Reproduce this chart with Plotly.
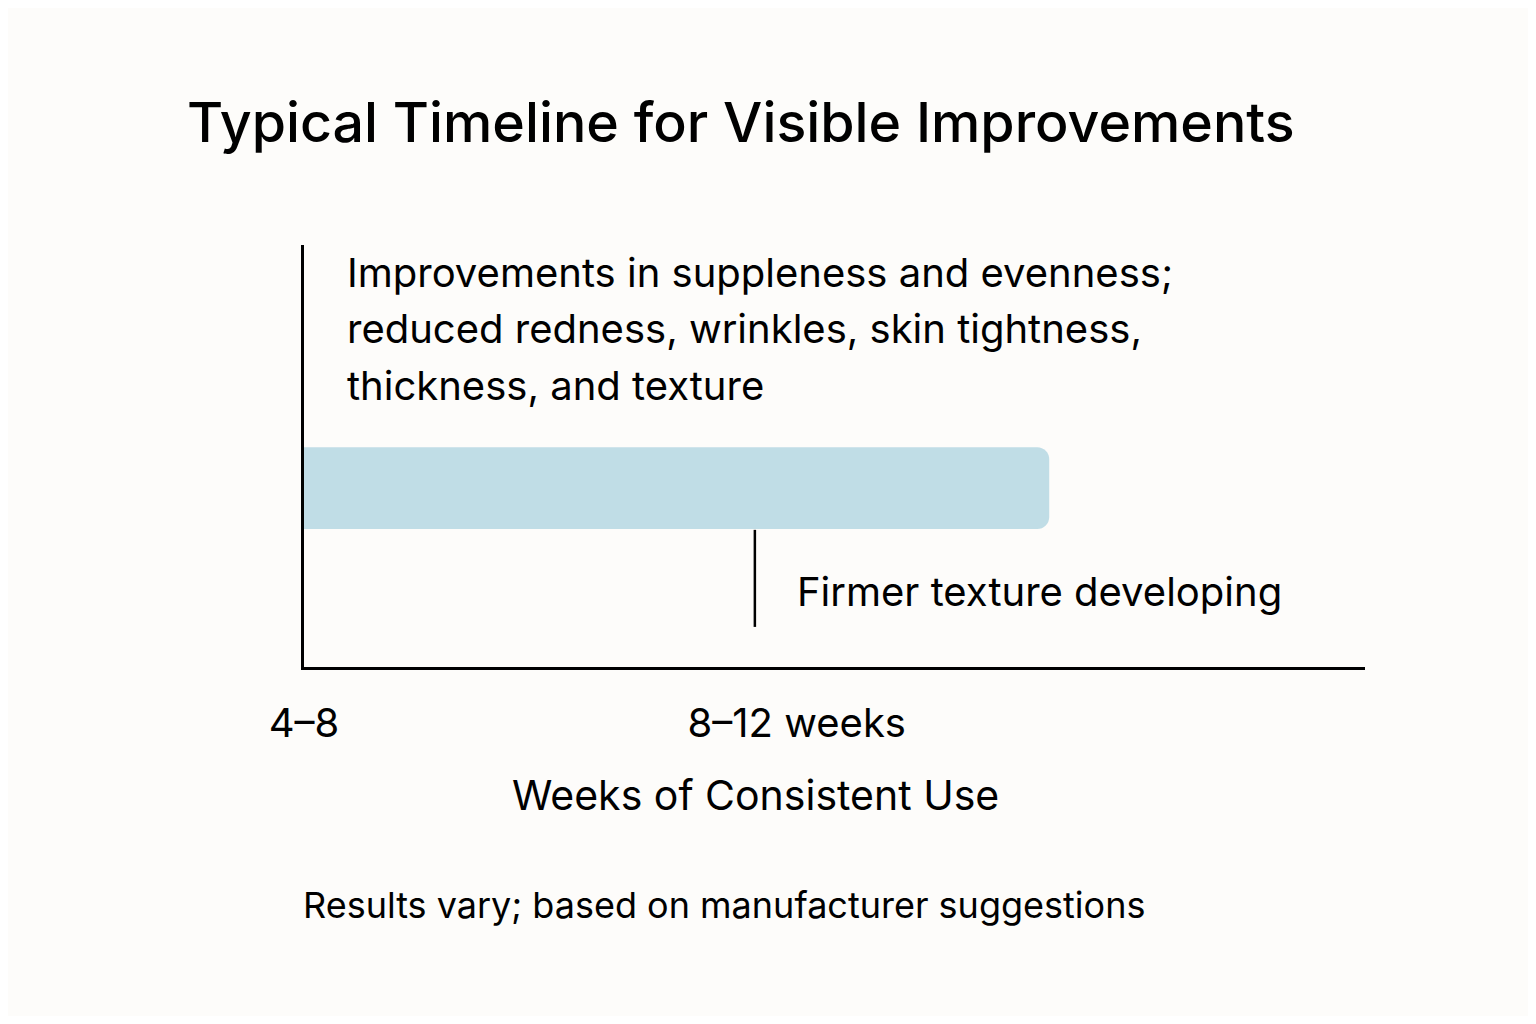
import plotly.graph_objects as go

# ---- data ---------------------------------------------------------------
# bar runs from before the first window (off the left edge) to week 12
bar_start_week = [3]
bar_end_week = [12]
bar_row = [0.424]
bar_thickness = 0.194

marker_week = [8.84, 8.84]
marker_span = [0.095, 0.325]

tick_weeks = [4, 9.29]
tick_labels = ["4–8", "8–12 weeks"]

early_lines = [
    "Improvements in suppleness and evenness;",
    "reduced redness, wrinkles, skin tightness,",
    "thickness, and texture",
]
early_x = 4.44
early_y = [0.934, 0.801, 0.668]

late_text = "Firmer texture developing"
late_x = 9.27
late_y = 0.178

BG = "#FDFCFA"
FONT = "Inter"

# page body adds 8px around the figure, so draw it 16px smaller
W, H = 1520, 1008
OFF = 8

fig = go.Figure()

fig.add_trace(go.Bar(
    x=[e - s for s, e in zip(bar_start_week, bar_end_week)],
    base=bar_start_week, y=bar_row, width=bar_thickness,
    orientation="h", marker=dict(color="#C0DDE6", line=dict(width=0)),
    hoverinfo="skip", showlegend=False,
))

# marker under the bar for the later stage
fig.add_trace(go.Scatter(
    x=marker_week, y=marker_span, mode="lines",
    line=dict(color="black", width=2.5), hoverinfo="skip", showlegend=False,
))

for txt, yy in zip(early_lines, early_y):
    fig.add_annotation(x=early_x, y=yy, text=txt, showarrow=False,
                       xanchor="left", yanchor="middle",
                       font=dict(family=FONT, size=40, color="black"))

fig.add_annotation(x=late_x, y=late_y, text=late_text, showarrow=False,
                   xanchor="left", yanchor="middle",
                   font=dict(family=FONT, size=40, color="black"))

# axis title sits left of the plot centre, so place it by hand
fig.add_annotation(text="Weeks of Consistent Use",
                   xref="paper", yref="paper", x=(755 - 304) / 1061, y=(667 - 795) / 422,
                   xanchor="center", yanchor="middle", showarrow=False,
                   font=dict(family=FONT, size=41, color="black"))

fig.add_annotation(text="Results vary; based on manufacturer suggestions",
                   xref="paper", yref="paper", x=-0.003, y=(667 - 905) / 422,
                   xanchor="left", yanchor="middle", showarrow=False,
                   font=dict(family=FONT, size=36, color="black"))

fig.update_layout(
    width=W, height=H,
    margin=dict(l=304 - OFF, r=W - (1365 - OFF), t=245 - OFF, b=H - (667 - OFF)),
    paper_bgcolor=BG, plot_bgcolor=BG,
    barcornerradius=12,
    title=dict(text="Typical Timeline for Visible Improvements",
               x=(187 - OFF) / W, xanchor="left", xref="container",
               y=1 - (123 - OFF) / H, yanchor="middle", yref="container",
               font=dict(family=FONT, size=55.5, color="black", weight=500)),
    font=dict(family=FONT, color="black"),
)

fig.update_xaxes(
    range=[4, 15.39], showgrid=False, zeroline=False,
    showline=True, linecolor="black", linewidth=3,
    tickmode="array", tickvals=tick_weeks, ticktext=tick_labels,
    ticks="", ticklabelstandoff=19,
    tickfont=dict(family=FONT, size=40, color="black"),
)
fig.update_yaxes(
    range=[0, 1], showgrid=False, zeroline=False,
    showline=True, linecolor="black", linewidth=3,
    showticklabels=False, ticks="",
)

fig.write_html("out.html")
